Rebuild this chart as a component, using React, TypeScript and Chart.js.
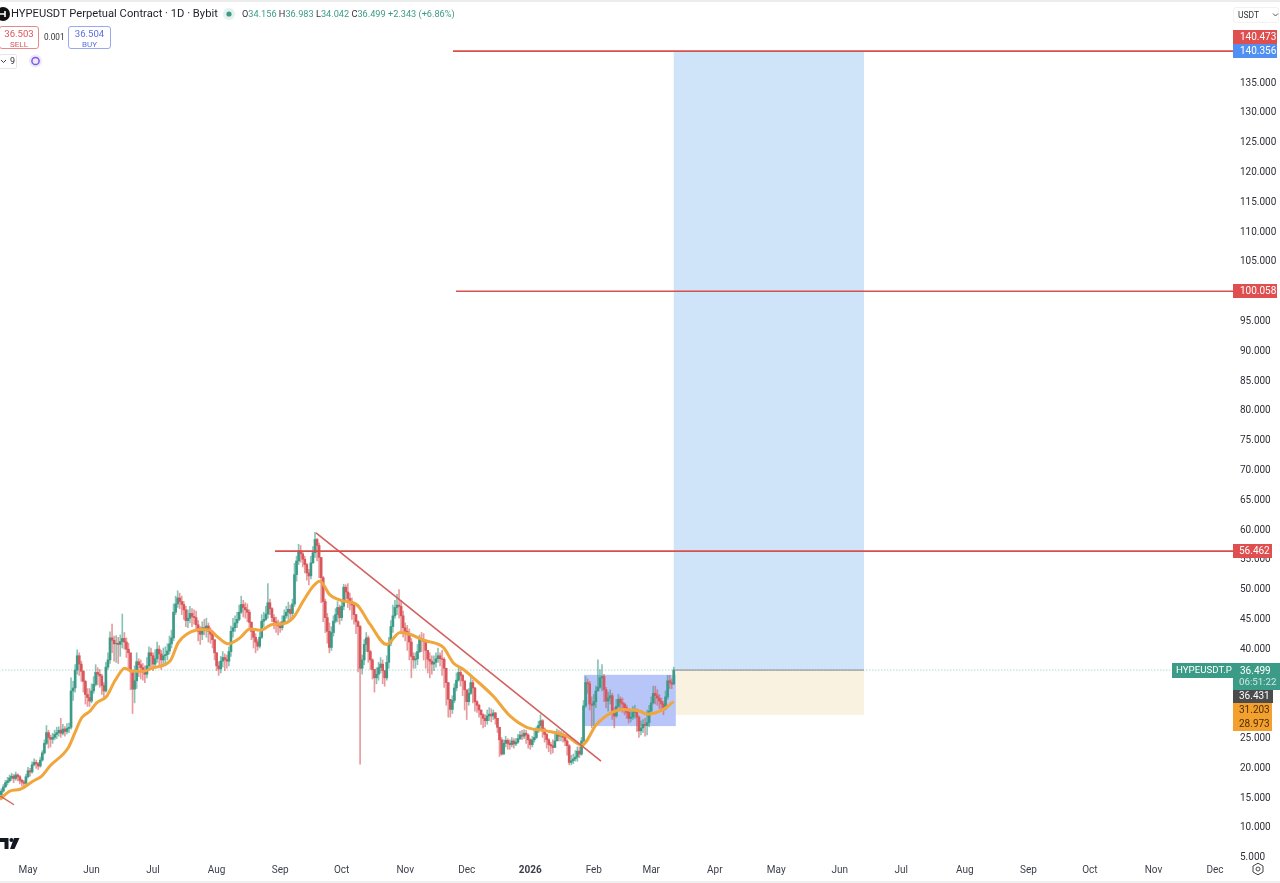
import React, { useEffect, useRef } from "react";
import Chart from "chart.js/auto";

const firstDay = -13; // days from 1 May 2025
const opens = [15.6,16.2,16.9,17.6,17.9,18.4,18.7,18.3,18.9,18.6,18.0,17.7,17.5,
18.6,19.6,19.4,20.6,21.0,20.8,20.4,21.4,22.6,24.2,
26.0,25.2,24.9,25.2,25.7,26.0,26.4,25.9,26.6,26.2,
26.7,26.9,33.0,33.5,36.5,38.9,37.5,36.3,34.6,32.4,
31.9,31.3,33.0,34.1,36.1,35.8,35.5,33.9,33.0,37.0,
38.2,41.9,41.5,40.9,41.0,40.8,41.3,41.8,41.2,40.0,
39.4,36.5,33.3,34.7,37.9,37.4,36.9,36.2,35.8,37.2,
39.4,38.9,37.5,38.4,40.0,39.2,38.2,38.9,39.1,39.7,
40.9,41.9,46.2,47.6,48.6,48.0,47.5,46.6,44.8,45.2,
46.0,45.5,45.3,44.1,43.0,42.5,43.6,43.2,43.9,43.0,
42.5,41.6,39.4,37.2,36.7,38.0,38.6,38.3,38.0,39.6,
43.0,43.6,44.4,45.0,46.2,47.5,47.0,46.6,46.2,44.5,
43.0,42.0,41.2,40.5,42.0,44.7,45.0,45.9,47.8,46.8,
45.3,44.6,44.2,43.9,43.6,44.6,45.6,46.2,46.7,46.0,
47.6,52.5,54.8,56.5,56.0,55.1,54.2,52.8,52.3,54.5,
56.2,58.4,57.4,55.4,52.0,48.0,45.3,43.0,40.3,42.8,
44.7,45.8,47.0,45.3,47.2,50.4,49.6,48.5,47.8,47.4,
45.8,44.6,43.8,36.8,38.2,40.8,41.9,39.6,38.2,36.6,
35.2,35.8,36.9,37.5,36.4,35.2,37.8,41.0,43.8,45.6,
47.0,47.4,47.2,45.6,43.6,43.0,42.5,41.2,38.8,38.2,
38.4,39.6,41.7,41.4,41.3,39.8,38.3,38.0,37.5,37.8,
38.4,38.9,38.4,38.3,36.8,34.4,31.6,29.9,31.4,33.5,
34.8,36.1,35.6,34.7,33.2,31.2,32.6,34.4,33.5,31.2,
30.6,29.8,29.0,28.4,28.0,28.8,29.1,28.8,29.3,28.4,
26.9,24.8,22.4,24.2,24.7,24.2,24.0,24.6,24.1,24.4,
25.0,25.6,25.4,25.9,25.6,24.8,24.0,24.8,25.2,26.3,
27.2,28.0,26.6,25.7,24.8,24.0,23.8,23.5,24.6,25.7,
25.4,25.5,25.2,24.6,23.8,21.0,21.3,21.6,21.9,22.9,
22.4,24.6,30.5,34.4,34.2,30.8,30.6,31.2,33.0,33.6,
35.2,35.4,33.2,31.3,31.8,32.2,29.6,28.8,30.4,31.6,
31.0,30.8,30.2,29.4,28.4,28.6,29.4,29.9,28.6,26.3,
26.8,27.4,27.2,27.7,29.6,31.0,32.6,32.2,31.8,31.3,
30.8,30.2,32.0,34.7,34.4,34.156];
const closes = [16.2,16.9,17.6,17.9,18.4,18.7,18.3,18.9,18.6,18.0,17.7,17.5,18.6,
19.6,19.4,20.6,21.0,20.8,20.4,21.4,22.6,24.2,26.0,
25.2,24.9,25.2,25.7,26.0,26.4,25.9,26.6,26.2,26.7,
26.9,33.0,33.5,36.5,38.9,37.5,36.3,34.6,32.4,31.9,
31.3,33.0,34.1,36.1,35.8,35.5,33.9,33.0,37.0,38.2,
41.9,41.5,40.9,41.0,40.8,41.3,41.8,41.2,40.0,39.4,
36.5,33.3,34.7,37.9,37.4,36.9,36.2,35.8,37.2,39.4,
38.9,37.5,38.4,40.0,39.2,38.2,38.9,39.1,39.7,40.9,
41.9,46.2,47.6,48.6,48.0,47.5,46.6,44.8,45.2,46.0,
45.5,45.3,44.1,43.0,42.5,43.6,43.2,43.9,43.0,42.5,
41.6,39.4,37.2,36.7,38.0,38.6,38.3,38.0,39.6,43.0,
43.6,44.4,45.0,46.2,47.5,47.0,46.6,46.2,44.5,43.0,
42.0,41.2,40.5,42.0,44.7,45.0,45.9,47.8,46.8,45.3,
44.6,44.2,43.9,43.6,44.6,45.6,46.2,46.7,46.0,47.6,
52.5,54.8,56.5,56.0,55.1,54.2,52.8,52.3,54.5,56.2,
58.4,57.4,55.4,52.0,48.0,45.3,43.0,40.3,42.8,44.7,
45.8,47.0,45.3,47.2,50.4,49.6,48.5,47.8,47.4,45.8,
44.6,43.8,36.8,38.2,40.8,41.9,39.6,38.2,36.6,35.2,
35.8,36.9,37.5,36.4,35.2,37.8,41.0,43.8,45.6,47.0,
47.4,47.2,45.6,43.6,43.0,42.5,41.2,38.8,38.2,38.4,
39.6,41.7,41.4,41.3,39.8,38.3,38.0,37.5,37.8,38.4,
38.9,38.4,38.3,36.8,34.4,31.6,29.9,31.4,33.5,34.8,
36.1,35.6,34.7,33.2,31.2,32.6,34.4,33.5,31.2,30.6,
29.8,29.0,28.4,28.0,28.8,29.1,28.8,29.3,28.4,26.9,
24.8,22.4,24.2,24.7,24.2,24.0,24.6,24.1,24.4,25.0,
25.6,25.4,25.9,25.6,24.8,24.0,24.8,25.2,26.3,27.2,
28.0,26.6,25.7,24.8,24.0,23.8,23.5,24.6,25.7,25.4,
25.5,25.2,24.6,23.8,21.0,21.3,21.6,21.9,22.9,22.4,
24.6,30.5,34.4,34.2,30.8,30.6,31.2,33.0,33.6,35.2,
35.4,33.2,31.3,31.8,32.2,29.6,28.8,30.4,31.6,31.0,
30.8,30.2,29.4,28.4,28.6,29.4,29.9,28.6,26.3,26.8,
27.4,27.2,27.7,29.6,31.0,32.6,32.2,31.8,31.3,30.8,
30.2,32.0,34.7,34.4,34.156,36.499];
const highs = [16.6,17.3,18.0,18.5,18.9,19.2,19.0,19.4,19.1,18.8,18.2,18.0,19.0,
20.2,20.0,21.1,21.6,21.4,21.0,21.9,23.0,24.8,27.2,
26.4,25.6,25.9,26.4,26.9,27.0,28.4,27.4,27.0,27.5,
27.6,35.2,34.6,37.4,39.9,39.4,38.0,36.4,34.8,33.4,
33.4,34.2,35.4,37.4,36.9,36.6,35.8,34.4,37.8,39.4,
42.9,44.2,42.2,42.3,42.0,42.4,45.9,42.8,41.9,41.0,
39.2,35.0,37.2,39.4,38.4,38.2,37.6,37.2,38.6,40.4,
40.2,39.4,39.9,41.2,40.6,39.8,40.2,40.4,40.9,42.2,
43.2,47.6,48.9,49.8,49.4,48.9,48.0,47.2,46.6,47.2,
46.8,46.6,46.4,44.8,43.8,44.6,45.0,45.2,44.4,43.6,
42.8,41.4,39.4,37.9,38.8,39.6,39.2,39.0,40.4,43.9,
45.2,45.6,46.2,47.4,48.9,48.2,47.8,47.6,46.6,44.6,
43.2,42.6,41.6,42.9,45.8,46.2,47.2,51.0,48.4,47.0,
45.8,45.4,44.9,44.6,45.6,46.6,47.2,47.9,47.4,48.4,
54.4,55.6,57.6,57.4,56.4,55.6,54.4,53.4,55.6,57.2,
59.6,58.6,57.8,55.4,52.2,48.4,46.0,44.4,43.8,45.6,
46.8,48.0,47.4,48.2,50.9,50.8,51.0,49.4,48.6,47.6,
45.8,44.8,44.0,39.0,41.6,42.8,42.2,39.8,38.4,36.6,
36.9,37.8,38.6,38.2,36.4,38.9,42.0,44.8,47.4,48.2,
49.2,50.0,48.2,46.4,44.4,44.0,43.4,41.8,39.4,39.4,
40.8,42.4,42.8,42.6,41.6,39.6,39.4,38.9,38.9,39.4,
40.2,39.4,39.8,38.6,36.8,34.4,31.0,32.2,34.2,36.0,
36.8,36.9,35.8,34.4,32.6,33.4,35.4,34.8,33.6,31.4,
30.8,29.8,29.2,29.0,29.8,30.2,30.0,29.8,29.4,28.4,
26.9,25.2,24.8,25.4,25.0,24.8,25.2,25.0,25.0,25.7,
26.2,26.4,26.5,26.4,25.8,25.0,25.4,26.4,27.0,27.9,
29.0,28.2,26.8,25.9,25.0,24.4,24.8,25.8,26.6,26.4,
26.2,26.0,25.6,24.8,24.0,22.2,22.4,23.0,23.6,23.6,
25.2,31.4,35.4,35.0,34.6,32.0,32.4,33.8,38.2,36.6,
37.4,35.8,33.6,32.8,33.2,32.6,30.2,31.6,32.4,32.0,
31.8,31.0,30.6,29.6,29.8,30.4,30.6,30.0,28.8,28.0,
28.2,28.4,29.8,30.6,32.0,33.8,33.8,33.2,32.4,31.8,
31.2,33.0,35.6,35.6,35.0,36.983];
const lows = [15.2,16.0,16.8,17.2,17.7,18.0,17.6,18.0,17.9,17.4,17.0,16.8,17.3,
18.4,18.7,19.2,20.4,20.0,19.8,20.2,21.2,22.4,24.0,
23.4,23.6,24.2,24.8,25.0,25.4,25.2,25.6,25.4,25.8,
26.0,26.6,31.4,32.8,35.8,35.6,34.6,32.8,30.8,30.4,
30.4,31.0,32.6,33.8,34.0,33.6,32.4,31.8,32.8,36.6,
37.6,39.4,38.0,37.8,37.6,38.8,40.2,40.0,38.6,36.8,
33.2,29.2,31.0,33.4,35.4,35.0,34.8,34.4,35.2,36.8,
37.0,36.4,36.8,37.8,37.4,36.6,37.2,37.4,38.2,39.2,
40.2,41.4,45.8,47.0,46.8,45.8,45.0,43.8,43.6,44.4,
43.8,44.2,43.4,41.4,40.8,41.6,42.4,42.0,41.2,41.0,
40.2,38.2,36.4,35.6,36.0,37.0,36.4,36.8,37.2,38.8,
42.0,43.0,43.6,44.8,46.0,45.4,45.2,44.6,43.2,41.6,
40.2,39.4,39.8,40.2,41.8,43.8,44.8,45.2,45.8,44.6,
43.4,42.8,42.4,42.8,43.2,44.4,45.2,45.0,45.0,45.4,
47.2,51.4,54.2,54.6,53.8,52.8,51.6,50.8,51.8,54.4,
55.4,54.8,52.0,47.8,44.6,42.8,41.0,39.4,39.8,42.2,
44.4,44.6,44.2,44.8,46.6,48.2,47.0,46.6,45.0,44.2,
42.6,36.2,20.7,35.8,37.4,39.6,37.8,36.6,35.0,32.8,
34.2,34.8,36.0,34.2,33.8,34.8,36.8,40.6,42.8,45.2,
45.8,45.2,43.0,42.0,41.4,39.8,38.2,35.2,36.8,36.8,
37.4,39.4,39.6,38.2,36.8,36.0,35.2,35.8,36.4,37.0,
37.8,37.2,35.6,33.6,30.6,28.6,28.6,29.2,31.0,33.0,
34.6,33.8,32.2,29.8,28.2,30.6,32.4,31.0,29.6,29.4,
28.6,27.4,26.8,27.0,27.4,28.0,27.8,28.2,27.4,26.0,
22.0,22.2,22.4,23.6,23.2,23.2,23.6,23.4,23.8,24.2,
24.8,24.8,25.0,24.2,23.4,23.2,23.6,24.4,25.0,26.0,
26.4,25.2,24.4,23.4,22.8,22.4,22.6,23.8,24.8,24.6,
24.6,24.4,23.8,22.2,20.6,20.6,20.8,21.2,21.2,21.8,
22.2,24.4,30.2,32.6,29.8,26.8,27.2,30.2,33.0,33.4,
33.0,31.2,30.2,29.6,30.8,28.2,26.8,28.6,30.2,29.8,
29.4,29.0,28.4,27.6,27.8,28.2,28.4,26.2,25.2,25.6,
26.0,25.4,25.6,27.0,29.6,30.8,30.8,30.6,30.0,29.6,
29.0,29.8,31.6,33.4,33.4,34.042];

const maDays = [-13.7,-8.8,-3.9,2.6,6.7,10.7,19.7,22.9,26.2,30.2,33.5,38.4,42.4,47.3,50.6,56.3,61.1,69.3,73.3,77.4,84.7,88.8,92,97.7,103.4,108.3,113.2,119.7,122.9,129.4,134.3,139.2,142.4,147.3,153.8,160.3,166.8,175,181.5,186.3,192.9,202.6,207.5,212.4,217.2,227,235.1,243.3,253,262.8,270.1,277.4,284.8,290.5,298.6,301.8,310,314.9];
const maValues = [14.8,16.2,16.5,17.9,18.7,20.4,23.5,26,28.5,29.6,31,32.1,34.7,36.8,36.3,36.3,36.9,38,41.1,42.5,43.3,43.2,42.2,40.9,41.9,43.4,43.2,44.2,44.2,45.3,48.1,50.6,51.4,49.1,48.1,47.5,44.2,40.8,42.8,42.5,41.5,40.3,37.7,36.6,35.2,32.1,28.8,26.9,26.3,25.4,23.9,27.4,29.4,29.9,29.6,29.1,29.9,31.2];

const monthDays = [0,31,61,92,123,153,184,214,245,276,304,335,365,396,426,457,488,518,549,579];
const monthLabels = ["May","Jun","Jul","Aug","Sep","Oct","Nov","Dec","2026","Feb","Mar","Apr","May","Jun","Jul","Aug","Sep","Oct","Nov","Dec"];
const priceTicks = [5,10,15,20,25,30,35,40,45,50,55,60,65,70,75,80,85,90,95,100,105,110,115,120,125,130,135];

const lastPrice = 36.499;
const resistance = [140.356, 100.058, 56.462];
const resistanceStart = [207.3, 208.8, 120.5];
const trendDays = [140.5, 279.5];
const trendPrices = [59.5, 21.2];
const stubDays = [-13.7, -6.8];
const stubPrices = [15.4, 13.9];
const projectionDays = [315, 407.8];
const projectionPrices = [140.356, 36.499, 28.973];
const rangeDays = [271.2, 316];
const rangePrices = [35.7, 27.1];

const GREEN = "#3b9b87";
const RED = "#d9575b";
const FONT = 'Roboto, sans-serif';

const hLine = (y: number, x0: number, color: string, label: string, extra: object = {}) => ({
  type: "line", label, order: 1,
  data: [{ x: x0, y }, { x: 587.8, y }],
  borderColor: color, borderWidth: 1.6, pointRadius: 0, ...extra,
});

const bandsPlugin = {
  id: "bands",
  beforeDatasetsDraw(chart: any) {
    const { ctx, scales: { x, y } } = chart;
    const rect = (d0: number, d1: number, p0: number, p1: number, c: string) => {
      ctx.fillStyle = c;
      ctx.fillRect(x.getPixelForValue(d0), y.getPixelForValue(p0), x.getPixelForValue(d1) - x.getPixelForValue(d0), y.getPixelForValue(p1) - y.getPixelForValue(p0));
    };
    rect(projectionDays[0], projectionDays[1], projectionPrices[0], projectionPrices[1], "#cfe3f9");
    rect(projectionDays[0], projectionDays[1], projectionPrices[1], projectionPrices[2], "#f9f2e0");
    rect(rangeDays[0], rangeDays[1], rangePrices[0], rangePrices[1], "#b7c5f8");
  },
};

const tagsPlugin = {
  id: "tags",
  afterDraw(chart: any) {
    const { ctx } = chart;
    ctx.save();
    ctx.fillStyle = "#fff";
    ctx.fillRect(1233, 860, 47, 23);
    const tag = (x: number, yTop: number, w: number, h: number, bg: string) => {
      ctx.fillStyle = bg;
      ctx.fillRect(x, yTop, w, h);
    };
    const text = (s: string, x: number, y: number, c: string, size = 10) => {
      ctx.font = `${size}px ${FONT}`;
      ctx.fillStyle = c;
      ctx.textAlign = "left";
      ctx.textBaseline = "middle";
      ctx.fillText(s, x, y);
    };
    tag(1233, 30, 44, 14, "#e04f50");
    text("140.473", 1240, 37.5, "#fff");
    tag(1233, 44, 44, 14, "#4f90f2");
    text("140.356", 1240, 51.5, "#fff");
    tag(1233, 284, 44, 14, "#e04f50");
    text("100.058", 1240, 291.5, "#fff");
    tag(1233, 544, 39, 14, "#e04f50");
    text("56.462", 1239, 551.5, "#fff");
    tag(1172, 663, 61, 15, GREEN);
    text("HYPEUSDT.P", 1176, 671, "#fff", 9.7);
    tag(1233, 663, 47, 27, GREEN);
    text("36.499", 1240, 671, "#fff");
    text("06:51:22", 1239, 682.5, "#cfe8e2", 9.7);
    tag(1233, 690, 40, 13, "#4b4b4e");
    text("36.431", 1239, 696.5, "#fff");
    tag(1233, 703, 39, 28, "#f3a02f");
    text("31.203", 1239, 710.5, "#4a2f05");
    text("28.973", 1239, 724.5, "#4a2f05");
    ctx.restore();
  },
};

const box: React.CSSProperties = { position: "absolute", boxSizing: "border-box", fontFamily: FONT, whiteSpace: "nowrap", lineHeight: 1 };

export default function App() {
  const ref = useRef<HTMLCanvasElement>(null);
  useEffect(() => {
    const ticksDays = closes.map((_, i) => firstDay + i);
    const up = closes.map((c, i) => c >= opens[i]);
    const chart = new Chart(ref.current as HTMLCanvasElement, {
      type: "bar",
      data: {
        datasets: [
          {
            type: "line", label: "Last price", order: 6,
            data: [{ x: -14, y: lastPrice }, { x: 587.8, y: lastPrice }],
            borderColor: "#8fc6ba", borderWidth: 1, borderDash: [1, 2], pointRadius: 0,
          },
          {
            label: "Wicks", order: 5, barThickness: 1, grouped: false,
            data: ticksDays.map((d, i) => ({ x: d, y: [lows[i], highs[i]] })),
            backgroundColor: up.map((u) => (u ? "rgba(59,155,135,0.6)" : "rgba(217,87,91,0.6)")),
          },
          {
            label: "Bodies", order: 4, barThickness: 2, grouped: false,
            data: ticksDays.map((d, i) => ({ x: d, y: [opens[i], closes[i]] })),
            backgroundColor: up.map((u) => (u ? GREEN : RED)),
          },
          {
            type: "line", label: "MA", order: 3,
            data: maDays.map((d, i) => ({ x: d, y: maValues[i] })),
            borderColor: "#f0a63c", borderWidth: 3, pointRadius: 0, cubicInterpolationMode: "monotone",
          },
          hLine(resistance[0], resistanceStart[0], "#d8504c", "R1", { order: 2 }),
          hLine(resistance[1], resistanceStart[1], "#d8504c", "R2", { order: 2 }),
          hLine(resistance[2], resistanceStart[2], "#d8504c", "R3", { order: 2 }),
          {
            type: "line", label: "Trend", order: 2,
            data: trendDays.map((d, i) => ({ x: d, y: trendPrices[i] })),
            borderColor: "#d4605f", borderWidth: 1.6, pointRadius: 0,
          },
          {
            type: "line", label: "Stub", order: 2,
            data: stubDays.map((d, i) => ({ x: d, y: stubPrices[i] })),
            borderColor: "#d4605f", borderWidth: 1.4, pointRadius: 0,
          },
          {
            type: "line", label: "Entry", order: 2,
            data: projectionDays.map((d) => ({ x: d, y: lastPrice })),
            borderColor: "#8a8a8a", borderWidth: 1, pointRadius: 0,
          },
        ] as any,
      },
      options: {
        animation: false,
        responsive: false,
        devicePixelRatio: 1,
        layout: { padding: 0 },
        plugins: { legend: { display: false }, tooltip: { enabled: false }, title: { display: false } },
        scales: {
          x: {
            type: "linear", position: "bottom", offset: false,
            min: -13.66, max: 587.8,
            grid: { display: false, drawTicks: false }, border: { display: false },
            afterBuildTicks: (s: any) => { s.ticks = monthDays.map((value) => ({ value })); },
            afterFit: (s: any) => { s.height = 23; s.paddingLeft = 0; s.paddingRight = 0; },
            ticks: {
              autoSkip: false, maxRotation: 0, padding: 4, color: "#3c3f4a",
              font: (c: any) => ({ family: FONT, size: 10, weight: c.tick && c.tick.value === 245 ? "bold" : "normal" }),
              callback: (v: any) => monthLabels[monthDays.indexOf(Number(v))],
            },
          },
          y: {
            type: "linear", position: "right",
            min: 4.63, max: 148.93,
            grid: { display: false, drawTicks: false }, border: { display: false },
            afterBuildTicks: (s: any) => { s.ticks = priceTicks.map((value) => ({ value })); },
            afterFit: (s: any) => { s.width = 47; s.paddingTop = 0; s.paddingBottom = 0; },
            ticks: {
              autoSkip: false, padding: 7, color: "#2f3038",
              font: { family: FONT, size: 10 },
              callback: (v: any) => Number(v).toFixed(3),
            },
          },
        },
      } as any,
      plugins: [bandsPlugin, tagsPlugin],
    });
    return () => chart.destroy();
  }, []);

  return (
    <div style={{ position: "absolute", left: 0, top: 0, width: 1280, height: 883, overflow: "hidden", background: "#fff" }}>
      <canvas ref={ref} width={1280} height={883} style={{ position: "absolute", left: 0, top: 0, width: 1280, height: 883 }} />
      <div style={{ position: "absolute", left: 0, top: 0, width: 1280, height: 2, background: "#ececec" }} />
      <div style={{ position: "absolute", left: 0, top: 881, width: 1280, height: 2, background: "#efefef" }} />
      <svg style={{ position: "absolute", left: 0, top: 0 }} width={60} height={30}>
        <circle cx={3} cy={14} r={7} fill="#111" />
        <path d="M0 14 h5 M5 11 v6" stroke="#fff" strokeWidth={1.6} />
      </svg>
      <div style={{ ...box, left: 11, top: 8, fontSize: 11.2, color: "#1e2029" }}>HYPEUSDT Perpetual Contract · 1D · Bybit</div>
      <svg style={{ position: "absolute", left: 220, top: 5 }} width={18} height={18}>
        <circle cx={9} cy={9} r={6} fill="#e3f2ee" />
        <circle cx={9} cy={9} r={2.6} fill="#3b9b87" />
      </svg>
      <div style={{ ...box, left: 242, top: 9, fontSize: 9.2, color: GREEN }}>
        <span style={{ color: "#333" }}>O</span>34.156 <span style={{ color: "#333" }}>H</span>36.983 <span style={{ color: "#333" }}>L</span>34.042 <span style={{ color: "#333" }}>C</span>36.499 +2.343 (+6.86%)
      </div>
      <div style={{ ...box, left: -1, top: 26, width: 40, height: 23, border: "1px solid #e58a8a", borderRadius: 3, textAlign: "center", color: "#d9575b", fontSize: 9.6, paddingTop: 2 }}>
        36.503<div style={{ fontSize: 8, marginTop: 2 }}>SELL</div>
      </div>
      <div style={{ ...box, left: 44, top: 33, fontSize: 8.2, color: "#333" }}>0.001</div>
      <div style={{ ...box, left: 68, top: 26, width: 43, height: 23, border: "1px solid #9aa8f0", borderRadius: 3, textAlign: "center", color: "#5b70e0", fontSize: 9.6, paddingTop: 2 }}>
        36.504<div style={{ fontSize: 8, marginTop: 2 }}>BUY</div>
      </div>
      <div style={{ ...box, left: -1, top: 54, width: 18, height: 15, border: "1px solid #e6e6e6", borderRadius: 2, fontSize: 9, color: "#333", paddingTop: 2, paddingLeft: 10 }}>9</div>
      <svg style={{ position: "absolute", left: 0, top: 54 }} width={46} height={15}>
        <path d="M1 6 l2.5 2.5 l2.5 -2.5" stroke="#444" fill="none" />
        <circle cx={35.5} cy={7} r={6.5} fill="#efe9fc" />
        <circle cx={35.5} cy={7} r={3.6} fill="none" stroke="#7c5ae6" strokeWidth={1.5} />
      </svg>
      <div style={{ ...box, left: 1233, top: 7, width: 46, height: 16, border: "1px solid #f2f2f2", borderRadius: 3, fontSize: 8.5, color: "#333", paddingTop: 3, paddingLeft: 4 }}>USDT</div>
      <svg style={{ position: "absolute", left: 1272, top: 12 }} width={7} height={6}>
        <path d="M1 1.5 l2.5 2.5 l2.5 -2.5" stroke="#555" fill="none" />
      </svg>
      <svg style={{ position: "absolute", left: 0, top: 836 }} width={22} height={14}>
        <path d="M0 2 h8.5 v11 h-4 v-7 h-4.5 z M14 2 h5.5 l-5 11 h-4.5 z" fill="#131722" />
        <circle cx={11.4} cy={4} r={2} fill="#131722" />
      </svg>
      <svg style={{ position: "absolute", left: 1251, top: 862 }} width={14} height={14}>
        <path d="M7 1.2 L12 4 V10 L7 12.8 L2 10 V4 Z" fill="none" stroke="#444" />
        <circle cx={7} cy={7} r={2} fill="none" stroke="#444" />
      </svg>
    </div>
  );
}
